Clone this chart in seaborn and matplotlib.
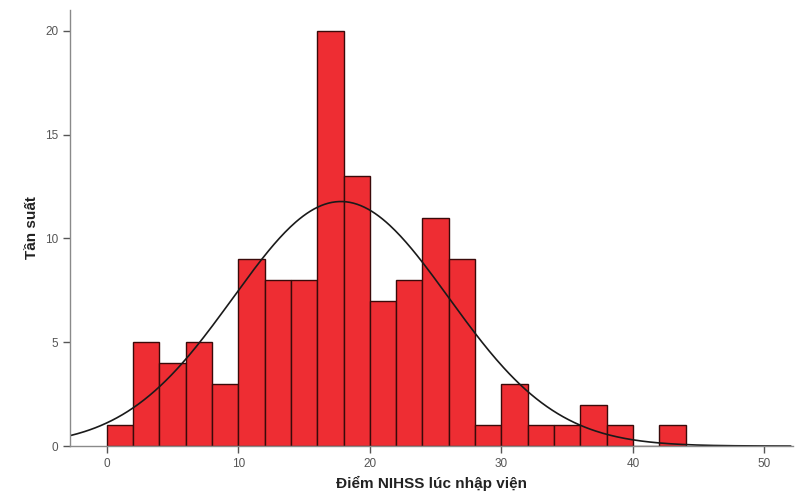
import matplotlib
matplotlib.use("Agg")
import matplotlib.pyplot as plt
import seaborn as sns
import numpy as np
import pandas as pd

# Histogram data (bin width 2)
bin_edges = [0, 2, 4, 6, 8, 10, 12, 14, 16, 18, 20, 22, 24, 26, 28, 30, 32, 34, 36, 38, 40, 42, 44]
counts = [1, 5, 4, 5, 3, 9, 8, 8, 20, 13, 7, 8, 11, 9, 1, 3, 1, 1, 2, 1, 0, 1]

# Fitted normal curve parameters
fit_mean = 17.8
fit_sd = 8.2
n_total = sum(counts)
bin_width = 2

x_ticks = [0, 10, 20, 30, 40, 50]
y_ticks = [0, 5, 10, 15, 20]

sns.set_theme(style="white")
plt.rcParams["font.family"] = ["Liberation Sans", "DejaVu Sans"]

fig = plt.figure(figsize=(7.95, 4.94), dpi=100)
ax = fig.add_axes([0.088, 0.097, 0.91, 0.883])

centers = [(a + b) / 2 for a, b in zip(bin_edges[:-1], bin_edges[1:])]
df = pd.DataFrame({"score": centers, "n": counts})

sns.histplot(data=df, x="score", weights="n", bins=bin_edges, ax=ax,
             color="#EE2D33", alpha=1, edgecolor="#3a0a0a", linewidth=1.0)

xs = np.linspace(-2.8, 52, 400)
ys = n_total * bin_width / (fit_sd * np.sqrt(2 * np.pi)) * np.exp(-0.5 * ((xs - fit_mean) / fit_sd) ** 2)
sns.lineplot(x=xs, y=ys, ax=ax, color="#1a1a1a", linewidth=1.2)

ax.set_xlim(-2.8, 52.2)
ax.set_ylim(0, 21)
ax.set_xticks(x_ticks)
ax.set_yticks(y_ticks)

for side in ["top", "right"]:
    ax.spines[side].set_visible(False)
for side in ["left", "bottom"]:
    ax.spines[side].set_color("#8a8a8a")
    ax.spines[side].set_linewidth(1.0)

ax.tick_params(axis="both", direction="out", length=5, width=1, color="#555555",
               labelsize=8.5, labelcolor="#555555", bottom=True, left=True)

ax.set_xlabel("Điểm NIHSS lúc nhập viện", fontsize=11, fontweight="bold", color="#222222")
ax.set_ylabel("Tần suất", fontsize=11, fontweight="bold", color="#222222")

plt.savefig("out.png", dpi=100)
plt.close()
